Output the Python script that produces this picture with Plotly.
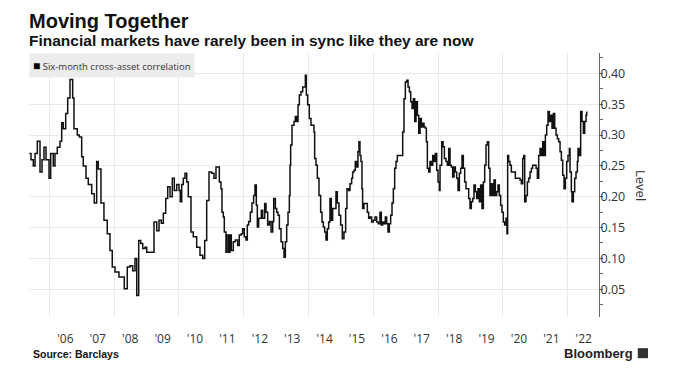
import plotly.graph_objects as go
from datetime import datetime

years = [
    2005.383, 2005.435, 2005.506, 2005.560, 2005.630, 2005.713, 2005.775, 2005.836, 2005.898, 2005.991,
    2006.043, 2006.123, 2006.176, 2006.247, 2006.330, 2006.383, 2006.432, 2006.506, 2006.568, 2006.639,
    2006.722, 2006.762, 2006.864, 2006.926, 2007.000, 2007.049, 2007.133, 2007.204, 2007.309, 2007.389,
    2007.463, 2007.512, 2007.596, 2007.688, 2007.790, 2007.873, 2007.944, 2008.028, 2008.151, 2008.235,
    2008.315, 2008.407, 2008.491, 2008.574, 2008.645, 2008.698, 2008.759, 2008.821, 2008.883, 2008.954,
    2009.006, 2009.170, 2009.231, 2009.315, 2009.386, 2009.457, 2009.519, 2009.593, 2009.654, 2009.725,
    2009.796, 2009.858, 2009.932, 2010.003, 2010.043, 2010.086, 2010.136, 2010.188, 2010.241, 2010.290,
    2010.373, 2010.444, 2010.549, 2010.651, 2010.735, 2010.796, 2010.858, 2010.929, 2011.012, 2011.083,
    2011.145, 2011.248, 2011.299, 2011.330, 2011.371, 2011.402, 2011.454, 2011.485, 2011.536, 2011.577,
    2011.618, 2011.680, 2011.742, 2011.814, 2011.865, 2011.927, 2011.968, 2012.019, 2012.071, 2012.112,
    2012.153, 2012.205, 2012.256, 2012.308, 2012.349, 2012.390, 2012.421, 2012.462, 2012.503, 2012.544,
    2012.585, 2012.647, 2012.688, 2012.740, 2012.791, 2012.843, 2012.894, 2012.925, 2012.976, 2013.017,
    2013.059, 2013.100, 2013.151, 2013.203, 2013.244, 2013.285, 2013.326, 2013.367, 2013.408, 2013.429,
    2013.449, 2013.491, 2013.552, 2013.593, 2013.635, 2013.676, 2013.717, 2013.768, 2013.820, 2013.861,
    2013.902, 2013.933, 2013.974, 2014.025, 2014.077, 2014.128, 2014.169, 2014.190, 2014.231, 2014.272,
    2014.324, 2014.375, 2014.416, 2014.458, 2014.499, 2014.540, 2014.581, 2014.622, 2014.663, 2014.704,
    2014.746, 2014.787, 2014.848, 2014.890, 2014.941, 2014.993, 2015.044, 2015.095, 2015.147, 2015.188,
    2015.239, 2015.281, 2015.332, 2015.363, 2015.404, 2015.445, 2015.486, 2015.527, 2015.558, 2015.589,
    2015.620, 2015.651, 2015.671, 2015.713, 2015.774, 2015.816, 2015.857, 2015.898, 2015.949, 2016.001,
    2016.052, 2016.104, 2016.155, 2016.206, 2016.248, 2016.289, 2016.330, 2016.371, 2016.412, 2016.453,
    2016.495, 2016.536, 2016.577, 2016.618, 2016.659, 2016.700, 2016.741, 2016.803, 2016.865, 2016.906,
    2016.947, 2016.988, 2017.030, 2017.071, 2017.113, 2017.154, 2017.195, 2017.236, 2017.277, 2017.318,
    2017.360, 2017.401, 2017.442, 2017.483, 2017.524, 2017.565, 2017.606, 2017.637, 2017.668, 2017.709,
    2017.750, 2017.792, 2017.833, 2017.874, 2017.915, 2017.956, 2017.997, 2018.039, 2018.059, 2018.111,
    2018.152, 2018.193, 2018.244, 2018.285, 2018.327, 2018.368, 2018.409, 2018.450, 2018.491, 2018.532,
    2018.573, 2018.615, 2018.656, 2018.697, 2018.738, 2018.779, 2018.820, 2018.861, 2018.903, 2018.944,
    2018.985, 2019.026, 2019.067, 2019.108, 2019.150, 2019.191, 2019.232, 2019.273, 2019.314, 2019.355,
    2019.397, 2019.438, 2019.479, 2019.520, 2019.561, 2019.602, 2019.643, 2019.685, 2019.726, 2019.767,
    2019.808, 2019.849, 2019.890, 2019.931, 2019.972, 2020.014, 2020.055, 2020.096, 2020.127, 2020.147,
    2020.178, 2020.219, 2020.261, 2020.322, 2020.384, 2020.466, 2020.528, 2020.569, 2020.610, 2020.641,
    2020.672, 2020.713, 2020.754, 2020.795, 2020.837, 2020.878, 2020.919, 2020.981, 2021.022, 2021.063,
    2021.104, 2021.145, 2021.186, 2021.228, 2021.269, 2021.310, 2021.351, 2021.392, 2021.433, 2021.474,
    2021.516, 2021.557, 2021.598, 2021.639, 2021.680, 2021.721, 2021.763, 2021.804, 2021.845, 2021.886,
    2021.927, 2021.968, 2022.009, 2022.051, 2022.071, 2022.112, 2022.133, 2022.174, 2022.215, 2022.256,
    2022.298, 2022.318, 2022.359, 2022.400, 2022.442, 2022.483, 2022.524, 2022.565, 2022.586,
]

level = [
    0.270, 0.260, 0.250, 0.270, 0.290, 0.240, 0.260, 0.280, 0.260, 0.230,
    0.270, 0.250, 0.270, 0.280, 0.290, 0.320, 0.310, 0.335, 0.360, 0.390,
    0.360, 0.310, 0.300, 0.297, 0.265, 0.250, 0.230, 0.220, 0.205, 0.190,
    0.257, 0.245, 0.190, 0.162, 0.140, 0.113, 0.086, 0.078, 0.070, 0.070,
    0.051, 0.086, 0.088, 0.080, 0.100, 0.040, 0.129, 0.124, 0.116, 0.118,
    0.110, 0.110, 0.159, 0.145, 0.162, 0.157, 0.173, 0.197, 0.216, 0.200,
    0.230, 0.210, 0.220, 0.210, 0.192, 0.220, 0.230, 0.238, 0.224, 0.200,
    0.143, 0.135, 0.118, 0.105, 0.100, 0.129, 0.194, 0.240, 0.238, 0.230,
    0.248, 0.224, 0.213, 0.175, 0.167, 0.143, 0.110, 0.138, 0.110, 0.138,
    0.113, 0.127, 0.130, 0.121, 0.138, 0.140, 0.148, 0.135, 0.130, 0.154,
    0.160, 0.175, 0.190, 0.202, 0.219, 0.186, 0.151, 0.165, 0.165, 0.178,
    0.165, 0.189, 0.175, 0.154, 0.160, 0.143, 0.160, 0.197, 0.181, 0.175,
    0.170, 0.148, 0.127, 0.116, 0.102, 0.127, 0.154, 0.175, 0.202, 0.251,
    0.284, 0.316, 0.322, 0.330, 0.322, 0.349, 0.365, 0.370, 0.378, 0.378,
    0.397, 0.365, 0.349, 0.327, 0.316, 0.316, 0.305, 0.262, 0.251, 0.230,
    0.202, 0.175, 0.159, 0.151, 0.143, 0.130, 0.148, 0.159, 0.197, 0.162,
    0.181, 0.181, 0.208, 0.190, 0.170, 0.154, 0.132, 0.143, 0.181, 0.213,
    0.210, 0.221, 0.230, 0.240, 0.243, 0.257, 0.248, 0.273, 0.289, 0.267,
    0.257, 0.213, 0.181, 0.189, 0.189, 0.175, 0.165, 0.167, 0.159, 0.162,
    0.167, 0.159, 0.156, 0.175, 0.154, 0.159, 0.156, 0.167, 0.156, 0.143,
    0.156, 0.170, 0.190, 0.213, 0.246, 0.257, 0.267, 0.267, 0.267, 0.305,
    0.359, 0.386, 0.389, 0.378, 0.370, 0.354, 0.343, 0.359, 0.322, 0.354,
    0.332, 0.303, 0.327, 0.313, 0.319, 0.313, 0.311, 0.289, 0.246, 0.240,
    0.257, 0.251, 0.267, 0.257, 0.270, 0.243, 0.224, 0.210, 0.251, 0.289,
    0.281, 0.262, 0.257, 0.251, 0.278, 0.251, 0.248, 0.232, 0.248, 0.240,
    0.230, 0.210, 0.238, 0.246, 0.267, 0.246, 0.224, 0.213, 0.213, 0.197,
    0.181, 0.192, 0.197, 0.219, 0.208, 0.197, 0.213, 0.192, 0.219, 0.181,
    0.224, 0.251, 0.284, 0.289, 0.246, 0.202, 0.221, 0.202, 0.227, 0.202,
    0.208, 0.219, 0.202, 0.186, 0.175, 0.159, 0.154, 0.165, 0.140, 0.267,
    0.257, 0.251, 0.240, 0.240, 0.230, 0.230, 0.227, 0.221, 0.262, 0.267,
    0.192, 0.202, 0.224, 0.230, 0.240, 0.246, 0.251, 0.251, 0.246, 0.230,
    0.267, 0.278, 0.267, 0.289, 0.267, 0.300, 0.316, 0.338, 0.322, 0.332,
    0.311, 0.335, 0.311, 0.300, 0.294, 0.289, 0.273, 0.259, 0.235, 0.213,
    0.230, 0.257, 0.267, 0.278, 0.240, 0.208, 0.192, 0.208, 0.230, 0.240,
    0.257, 0.278, 0.267, 0.338, 0.322, 0.303, 0.322, 0.332, 0.338,
]

tick_years = list(range(2006, 2023))
tick_labels = ["'%02d" % (y % 100) for y in tick_years]
grid_years = list(range(2006, 2023, 2))
y_ticks = [0.05, 0.10, 0.15, 0.20, 0.25, 0.30, 0.35, 0.40]
y_minor = [0.025, 0.075, 0.125, 0.175, 0.225, 0.275, 0.325, 0.375, 0.425]
x_range_years = [2005.373, 2022.966]
y_range = [0.005, 0.433]


def to_date(t):
    y = int(t)
    a = datetime(y, 1, 1)
    b = datetime(y + 1, 1, 1)
    return a + (b - a) * (t - y)


dates = [to_date(t) for t in years]

fig = go.Figure()
fig.add_trace(go.Scatter(
    x=dates, y=level, mode="lines",
    line=dict(color="#111111", width=1.5, shape="hv"),
    name="Six-month cross-asset correlation", showlegend=False,
))

TXT = "#333333"
GRID = "#e9e9e9"

# the page body adds an 8px offset, so the figure is 8px smaller each way
fig.update_layout(
    width=679, height=367,
    margin=dict(l=21, r=88, t=45, b=58),
    paper_bgcolor="white", plot_bgcolor="white",
    font=dict(family="Open Sans, sans-serif", color=TXT),
    xaxis=dict(
        range=[to_date(x_range_years[0]), to_date(x_range_years[1])],
        tickmode="array",
        tickvals=[datetime(y, 7, 1) for y in tick_years],
        ticktext=tick_labels,
        showgrid=False, zeroline=False, showline=False, ticks="",
        tickfont=dict(size=12, color=TXT),
        ticklabelstandoff=13,
        minor=dict(tickmode="array",
                   tickvals=[datetime(y, 1, 1) for y in grid_years],
                   showgrid=True, gridcolor=GRID, gridwidth=1, ticks=""),
    ),
    yaxis=dict(
        side="right", range=y_range,
        tickmode="array", tickvals=y_ticks, tickformat=".2f",
        showgrid=True, gridcolor=GRID, gridwidth=1,
        zeroline=False, showline=True, linecolor="#666666", linewidth=1,
        ticks="outside", ticklen=3, tickcolor="#666666", tickwidth=1,
        tickfont=dict(size=12.5, color=TXT),
        ticklabelstandoff=-5,
        minor=dict(tickmode="array", tickvals=y_minor, ticks="outside",
                   ticklen=3, tickcolor="#666666", showgrid=False),
    ),
)

annotations = [
    dict(text="<b>Moving Together</b>", x=0, y=1.122, xref="paper", yref="paper",
         xanchor="left", yanchor="middle", xshift=-2, showarrow=False,
         font=dict(family="Liberation Sans, Arial, sans-serif", size=20, color="#111111")),
    dict(text="<b>Financial markets have rarely been in sync like they are now</b>",
         x=0, y=1.046, xref="paper", yref="paper", xanchor="left", yanchor="middle",
         xshift=-2, showarrow=False,
         font=dict(family="Liberation Sans, Arial, sans-serif", size=15.5, color="#111111")),
    dict(text="<span style='color:#000000;font-size:12px'>■</span> Six-month cross-asset correlation",
         x=0, y=1, xref="paper", yref="paper", xanchor="left", yanchor="top",
         showarrow=False, bgcolor="#ececec", borderpad=3,
         font=dict(family="Open Sans, sans-serif", size=9.5, color="#333333")),
    dict(text="Level", x=1, y=0.5, xref="paper", yref="paper", xanchor="center",
         yanchor="middle", xshift=42, textangle=90, showarrow=False,
         font=dict(family="Open Sans, sans-serif", size=13, color="#333333")),
    dict(text="<b>Source: Barclays</b>", x=0, y=-0.141, xref="paper", yref="paper",
         xanchor="left", yanchor="middle", xshift=2, showarrow=False,
         font=dict(family="Liberation Sans, Arial, sans-serif", size=10.5, color="#111111")),
    dict(text="<b>Bloomberg</b>", x=1, y=-0.137, xref="paper", yref="paper",
         xanchor="right", yanchor="middle", xshift=36, showarrow=False,
         font=dict(family="Liberation Sans, Arial, sans-serif", size=13, color="#222222")),
]
fig.update_layout(annotations=annotations)

fig.add_shape(type="rect", xref="paper", yref="paper",
              x0=1.068, x1=1.086, y0=-0.156, y1=-0.118,
              fillcolor="#333333", line=dict(width=0))

fig.write_html("out.html")
